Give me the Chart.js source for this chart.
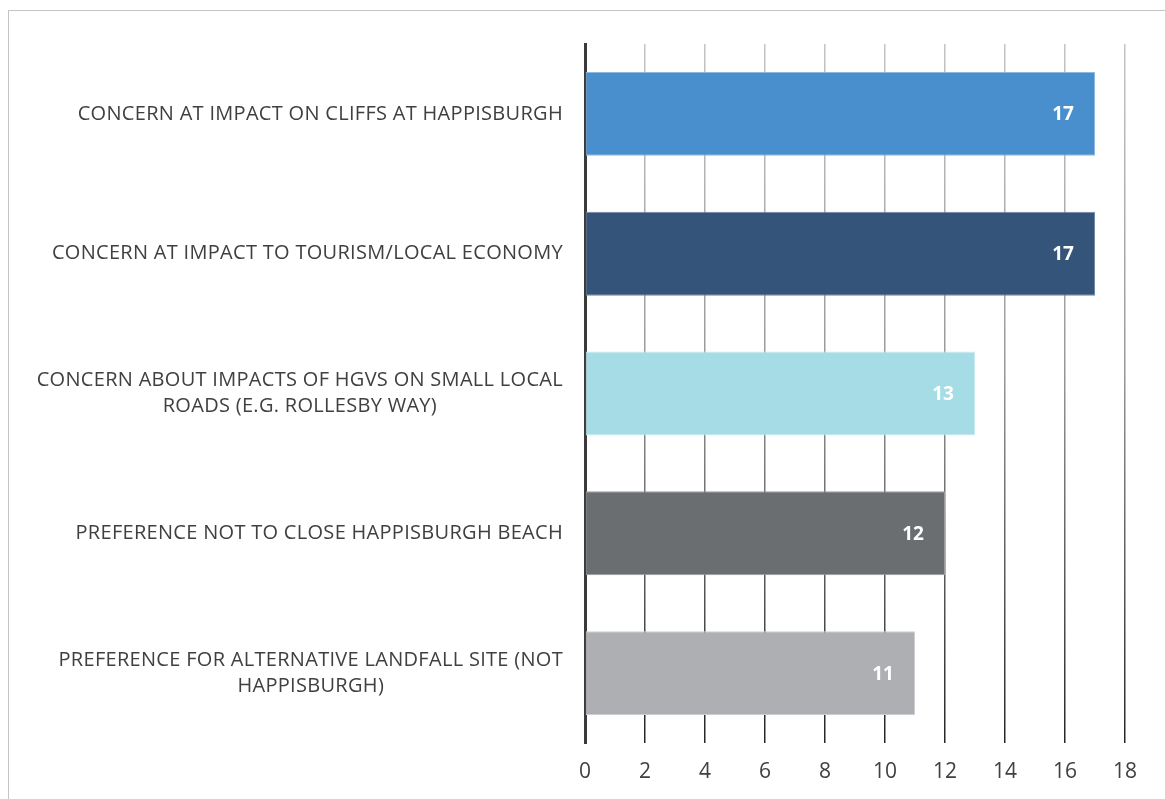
<!DOCTYPE html>
<html>
<head>
<meta charset="utf-8">
<script src="https://cdn.jsdelivr.net/npm/chart.js@4.4.1/dist/chart.umd.min.js"></script>
<style>
  html, body { margin: 0; padding: 0; background: #fff; overflow: hidden; }
  #frame { position: absolute; left: 8px; top: 10px; width: 1170px; height: 800px; border: 1px solid #c4c4c4; }
  #wrap { position: absolute; left: 0; top: 0; width: 1165px; height: 799px; }
</style>
</head>
<body>
<div id="frame"></div>
<div id="wrap"><canvas id="chart"></canvas></div>
<script>
const categories = [
    ["CONCERN AT IMPACT ON CLIFFS AT HAPPISBURGH"],
    ["CONCERN AT IMPACT TO TOURISM/LOCAL ECONOMY"],
    ["CONCERN ABOUT IMPACTS OF HGVS ON SMALL LOCAL", "ROADS (E.G. ROLLESBY WAY)"],
    ["PREFERENCE NOT TO CLOSE HAPPISBURGH BEACH"],
    ["PREFERENCE FOR ALTERNATIVE LANDFALL SITE (NOT", "HAPPISBURGH)"]
];
const counts = [17, 17, 13, 12, 11];
const barColors = ["#4a8fcd", "#345479", "#a5dce6", "#6b6e71", "#adafb3"];
const edgeColors = ["#8db8e2", "#6f88a6", "#c8ebf1", "#9a9c9f", "#cdcfd2"];
const xTicks = [0, 2, 4, 6, 8, 10, 12, 14, 16, 18];

const FONT = "'Open Sans'";
const TEXT = "#404040";

// category labels, right aligned block, lines centred inside the block
const catLabels = {
    id: "catLabels",
    afterDraw(chart) {
        const c = chart.ctx;
        const y = chart.scales.y;
        const right = y.right - 22;
        c.save();
        c.font = `20px ${FONT}`;
        c.letterSpacing = "0.3px";
        c.fillStyle = TEXT;
        c.textAlign = "center";
        c.textBaseline = "middle";
        categories.forEach((lines, i) => {
            const w = Math.max(...lines.map(l => c.measureText(l).width));
            const cy = y.getPixelForValue(i);
            const lh = 26;
            lines.forEach((l, k) => {
                c.fillText(l, right - w / 2, cy + (k - (lines.length - 1) / 2) * lh);
            });
        });
        c.restore();
    }
};

// values inside the end of each bar
const valueLabels = {
    id: "valueLabels",
    afterDatasetsDraw(chart) {
        const c = chart.ctx;
        const meta = chart.getDatasetMeta(0);
        c.save();
        c.font = `bold 19px ${FONT}`;
        c.fillStyle = "#ffffff";
        c.textAlign = "center";
        c.textBaseline = "middle";
        meta.data.forEach((bar, i) => {
            c.fillText(String(counts[i]), bar.x - 32, bar.y + 1);
        });
        c.restore();
    }
};

let gridGrad = null;
function gridColor(ctx) {
    const area = ctx.chart.chartArea;
    if (!area) return "#888";
    if (!gridGrad) {
        gridGrad = ctx.chart.ctx.createLinearGradient(0, area.top, 0, area.bottom);
        gridGrad.addColorStop(0, "#c4c4c4");
        gridGrad.addColorStop(0.45, "#9a9a9a");
        gridGrad.addColorStop(1, "#262626");
    }
    return gridGrad;
}

new Chart(document.getElementById("chart"), {
    type: "bar",
    data: {
        labels: categories,
        datasets: [{
            data: counts,
            backgroundColor: barColors,
            borderColor: edgeColors,
            borderWidth: 1,
            borderSkipped: false,
            categoryPercentage: 0.6,
            barPercentage: 1.0
        }]
    },
    options: {
        indexAxis: "y",
        responsive: true,
        maintainAspectRatio: false,
        animation: false,
        layout: { padding: { top: 44, right: 40, left: 0, bottom: 0 } },
        plugins: { legend: { display: false }, tooltip: { enabled: false } },
        scales: {
            x: {
                min: 0,
                max: 18,
                afterBuildTicks(scale) { scale.ticks = xTicks.map(v => ({ value: v })); },
                afterFit(scale) { scale.height = 56; },
                grid: { color: gridColor, lineWidth: 1.5, drawTicks: false },
                border: { display: false },
                ticks: { color: TEXT, font: { family: "'Open Sans'", size: 21 }, padding: 16 }
            },
            y: {
                afterFit(scale) { scale.width = 585; },
                grid: { display: false },
                border: { display: true, color: "#3a3a3a", width: 3 },
                ticks: { display: false }
            }
        }
    },
    plugins: [catLabels, valueLabels]
});
</script>
</body>
</html>
